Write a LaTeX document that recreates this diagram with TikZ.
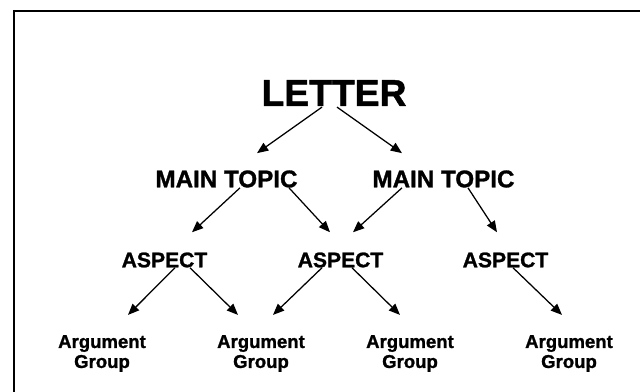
\documentclass[tikz,border=0pt]{standalone}
\usepackage{fontspec}
\setmainfont{Liberation Sans}[BoldFeatures={FakeBold=1.2}]
\usetikzlibrary{arrows.meta,calc}
\begin{document}
\begin{tikzpicture}[x=0.025cm, y=-0.025cm, every node/.style={inner sep=0pt},
    arr/.style={line width=0.9pt, -{Triangle[length=8pt, width=6.5pt]}}]
\useasboundingbox (0,0) rectangle (640,392);
% frame
\draw[line width=1.4pt] (640,11) -- (14,11) -- (14,392);
% levels
\node[font=\bfseries\fontsize{26.5}{30}\selectfont] (lt) at (334,93) {LETTER};
\foreach \n/\x in {1/226.5, 2/443.5} {
    \node[font=\bfseries\fontsize{17.2}{20}\selectfont] (mt\n) at (\x,179) {MAIN TOPIC};
}
\foreach \n/\x in {1/164.5, 2/340.5, 3/505.5} {
    \node[font=\bfseries\fontsize{15}{18}\selectfont] (as\n) at (\x,260) {ASPECT};
}
\foreach \n/\x in {1/102, 2/261, 3/410, 4/569} {
    \node[font=\bfseries\fontsize{13.2}{14.2}\selectfont, align=center] (ag\n) at (\x,353.5) {Argument\\Group};
}
% letter -> main topics
\foreach \a/\sx/\b/\ex in {lt/-12/mt1/30.5, lt/3/mt2/-41.5} {
    \draw[arr] ($(\a.south)+(\sx,1)$) -- ($(\b.north)+(\ex,-17)$);
}
% main topics -> aspects, aspects -> groups
\foreach \a/\sx/\b/\ex in {mt1/13.5/as1/27.5, mt1/62.5/as2/-10.5, mt2/-41.5/as2/12.5, mt2/24.5/as3/-8.5,
    as1/10.5/ag1/26, as1/25.5/ag2/-23, as2/-18.5/ag2/12, as2/11.5/ag3/-10, as3/7.5/ag4/-7} {
    \draw[arr] ($(\a.south)+(\sx,0)$) -- ($(\b.north)+(\ex,-20)$);
}
\end{tikzpicture}
\end{document}
